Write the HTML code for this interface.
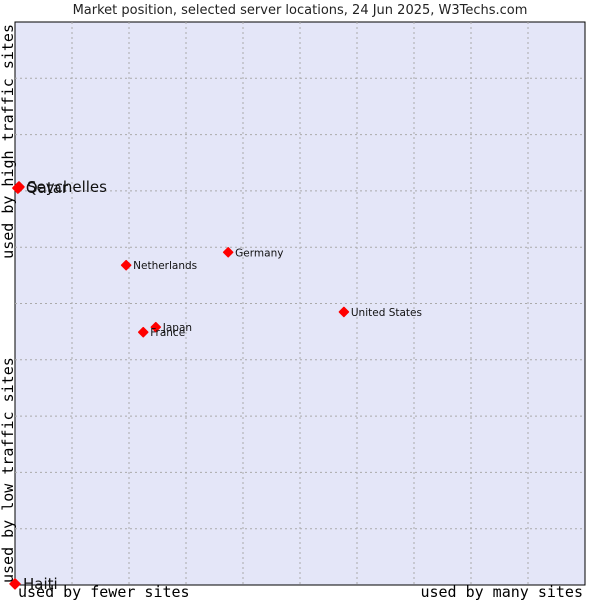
<!DOCTYPE html>
<html><head><meta charset="utf-8"><style>
body{margin:0;background:#fff;}
svg{display:block;}
</style></head><body>
<svg id="chart" width="600" height="600" xmlns="http://www.w3.org/2000/svg">
<text x="300" y="14" text-anchor="middle" font-family="DejaVu Sans, sans-serif" font-size="13" fill="#222">Market position, selected server locations, 24 Jun 2025, W3Techs.com</text>
<rect x="15" y="22" width="570" height="563" fill="#e4e6f8" stroke="#000" stroke-width="1"/>
<g id="grid"></g>
<g id="points"></g>
<text x="18" y="597" font-family="DejaVu Sans Mono, monospace" font-size="15" fill="#000">used by fewer sites</text>
<text x="583" y="597" text-anchor="end" font-family="DejaVu Sans Mono, monospace" font-size="15" fill="#000">used by many sites</text>
<text transform="translate(13,24) rotate(-90)" text-anchor="end" font-family="DejaVu Sans Mono, monospace" font-size="15" fill="#000">used by high traffic sites</text>
<text transform="translate(13,583) rotate(-90)" font-family="DejaVu Sans Mono, monospace" font-size="15" fill="#000">used by low traffic sites</text>
</svg>
<script>
const names=["Seychelles","Qatar","Haiti","Netherlands","Germany","United States","Japan","France"];
const xVals=[0.7,0.5,0,19.5,37.4,57.7,24.7,22.5];
const yVals=[70.7,70.5,0.2,56.8,59.1,48.5,45.8,44.9];
const bigLabel=[true,true,true,false,false,false,false,false];
const L=15,T=22,W=570,H=563;
const sx=v=>L+v/100*W, sy=v=>T+H-v/100*H;
const NS="http://www.w3.org/2000/svg";
const grid=document.getElementById('grid');
for(let i=1;i<10;i++){
  const v=document.createElementNS(NS,'line');
  
  
  v.setAttribute('x1',sx(i*10));v.setAttribute('x2',sx(i*10));v.setAttribute('y1',T);v.setAttribute('y2',T+H);
  v.setAttribute('stroke','#aaa');v.setAttribute('stroke-dasharray','2,3');
  grid.appendChild(v);
  const h=document.createElementNS(NS,'line');
  
  
  h.setAttribute('y1',sy(i*10));h.setAttribute('y2',sy(i*10));h.setAttribute('x1',L);h.setAttribute('x2',L+W);
  h.setAttribute('stroke','#aaa');h.setAttribute('stroke-dasharray','2,3');
  grid.appendChild(h);
}
const pts=document.getElementById('points');
names.forEach((n,i)=>{
  const x=sx(xVals[i]),y=sy(yVals[i]);
  const big=bigLabel[i];
  const r=big?5:4.5;
  const d=document.createElementNS(NS,'path');
  
  
  d.setAttribute('d',`M${x-r},${y}L${x},${y-r}L${x+r},${y}L${x},${y+r}Z`);
  d.setAttribute('fill','#f00');
  d.setAttribute('stroke','#f00');
  d.setAttribute('stroke-linejoin','round');
  d.setAttribute('stroke-width','1.5');
  pts.appendChild(d);
  const t=document.createElementNS(NS,'text');
  
  
  t.setAttribute('x',x+(big?8:7));
  t.setAttribute('y',y+(big?5:4));
  t.setAttribute('font-family','DejaVu Sans, sans-serif');
  t.setAttribute('font-size',big?15:10.5);
  t.setAttribute('fill','#111');
  t.textContent=n;
  pts.appendChild(t);
});
</script>
</body></html>
